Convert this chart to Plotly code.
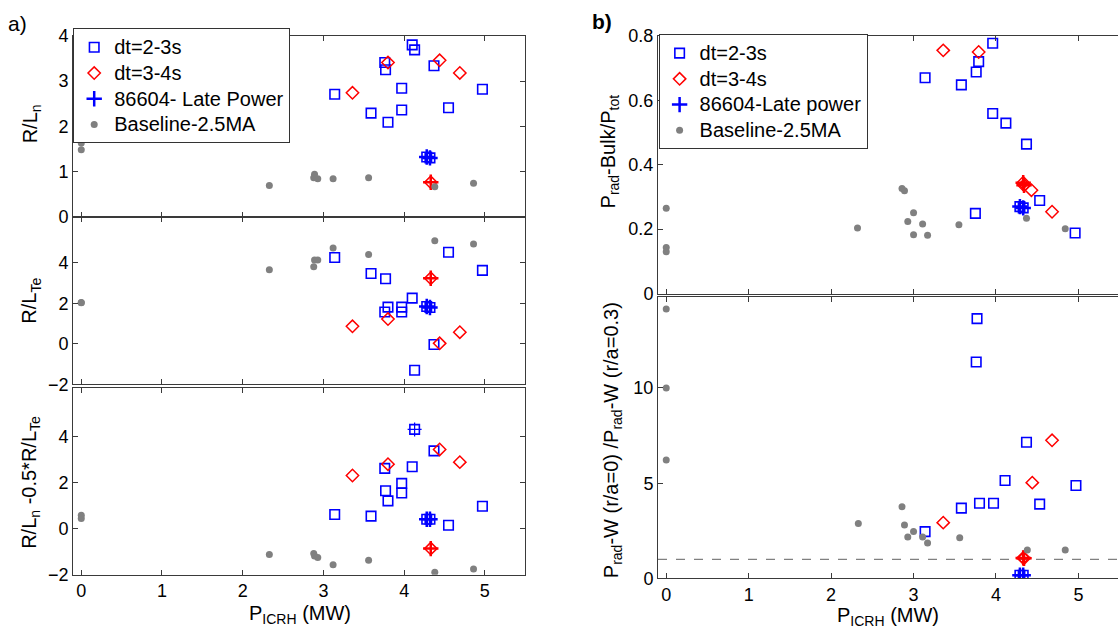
import plotly.graph_objects as go

W, H = 1118, 643

# ---------------- left column: gradients vs ICRH power ----------------
# dt = 2-3 s window
sq_x_L = [3.14, 3.59, 3.76, 3.77, 3.80, 3.97, 3.97, 4.10, 4.13, 4.37, 4.55, 4.97]
sq_rln = [2.71, 2.29, 3.41, 3.25, 2.09, 2.84, 2.36, 3.80, 3.69, 3.34, 2.41, 2.82]
sq_rlte = [4.27, 3.48, 1.58, 3.22, 1.82, 1.82, 1.58, 2.26, -1.30, -0.03, 4.53, 3.63]
sq_diff = [0.61, 0.54, 2.61, 1.64, 1.20, 1.96, 1.54, 2.68, 4.30, 3.37, 0.14, 0.97]

# dt = 3-4 s window
dm_x_L = [3.36, 3.80, 4.44, 4.69]
dm_rln = [2.74, 3.41, 3.46, 3.18]
dm_rlte = [0.87, 1.23, 0.03, 0.58]
dm_diff = [2.30, 2.79, 3.43, 2.88]

# pulse 86604, late power step
lp_x_L = [4.28, 4.32]
lp_rln = [1.32, 1.30]
lp_rlte = [1.85, 1.80]
lp_diff = [0.40, 0.40]
lp_red_x_L = [4.33]
lp_red_rln = [0.76]
lp_red_rlte = [3.24]
lp_red_diff = [-0.87]
lp_extra_x = [4.13]
lp_extra_diff = [4.30]

# baseline 2.5 MA
bl_x_L = [0.0, 0.0, 2.33, 2.88, 2.89, 2.93, 3.12, 3.56, 4.38, 4.86]
bl_rln = [1.63, 1.48, 0.69, 0.86, 0.94, 0.84, 0.84, 0.86, 0.66, 0.74]
bl_rlte = [2.05, 2.03, 3.66, 3.81, 4.14, 4.14, 4.74, 4.42, 5.10, 4.93]
bl_diff = [0.58, 0.44, -1.13, -1.08, -1.19, -1.26, -1.57, -1.38, -1.90, -1.75]

# ---------------- right column: radiation ----------------
sq_x_R1 = [3.14, 3.58, 3.76, 3.79, 3.75, 3.96, 3.96, 4.12, 4.37, 4.53, 4.96]
sq_bulk = [0.670, 0.648, 0.688, 0.720, 0.249, 0.777, 0.559, 0.529, 0.464, 0.289, 0.188]
sq_x_R2 = [3.14, 3.58, 3.77, 3.76, 3.80, 3.97, 4.11, 4.37, 4.53, 4.97]
sq_peak = [2.46, 3.69, 13.64, 11.36, 3.95, 3.95, 5.14, 7.15, 3.90, 4.88]

dm_x_R1 = [3.36, 3.79, 4.43, 4.68]
dm_bulk = [0.755, 0.750, 0.321, 0.254]
dm_x_R2 = [3.36, 4.44, 4.68]
dm_peak = [2.93, 5.03, 7.25]

lp_x_R = [4.29, 4.33]
lp_bulk = [0.270, 0.266]
lp_peak = [0.17, 0.17]
lp_red_x_R = [4.33, 4.34]
lp_red_bulk = [0.344, 0.336]
lp_red_peak = [1.08, 1.06]

bl_x_R1 = [0.0, 0.0, 0.0, 2.32, 2.86, 2.89, 2.93, 3.00, 3.00, 3.11, 3.17, 3.55, 4.37, 4.84]
bl_bulk = [0.265, 0.143, 0.130, 0.204, 0.326, 0.319, 0.224, 0.251, 0.183, 0.216, 0.181, 0.214, 0.234, 0.201]
bl_x_R2 = [0.0, 0.0, 0.0, 2.33, 2.86, 2.89, 2.93, 3.00, 3.11, 3.17, 3.56, 4.38, 4.84]
bl_peak = [14.15, 10.0, 6.22, 2.88, 3.76, 2.80, 2.17, 2.46, 2.17, 1.86, 2.14, 1.49, 1.49]

peaking_ref = 1.0

BLUE = "rgb(0,0,255)"
RED = "rgb(255,0,0)"
GREY = "rgb(128,128,128)"
AX = "#3a3a3a"
FONT = "Liberation Sans, Arial, sans-serif"


def px_x(p):
    return p / W


def px_y(p):
    return 1 - p / H


def big(text):
    # legend labels are drawn at 20 px on a tighter row pitch
    return '<span style="font-size:20px">' + text + "</span>"


fig = go.Figure()


def add_panel(ax, sq, dm, lp, lp_red, bl, legend, show, extra=None):
    xa, ya = ax
    common = dict(xaxis=xa, yaxis=ya, mode="markers", legend=legend)
    fig.add_trace(go.Scatter(x=sq[0], y=sq[1], name=big("dt=2-3s"), showlegend=show,
                             marker=dict(symbol="square-open", size=9.5, color=BLUE,
                                         line=dict(width=1.6, color=BLUE)), **common))
    fig.add_trace(go.Scatter(x=dm[0], y=dm[1], name=big("dt=3-4s"), showlegend=show,
                             marker=dict(symbol="diamond-open", size=9.5, color=RED,
                                         line=dict(width=1.5, color=RED)), **common))
    # 86604 outlines for the two time windows
    fig.add_trace(go.Scatter(x=lp[0], y=lp[1], showlegend=False, hoverinfo="skip",
                             marker=dict(symbol="square-open", size=9.5, color=BLUE,
                                         line=dict(width=1.6, color=BLUE)), **common))
    fig.add_trace(go.Scatter(x=lp_red[0], y=lp_red[1], showlegend=False, hoverinfo="skip",
                             marker=dict(symbol="diamond-open", size=9.5, color=RED,
                                         line=dict(width=1.5, color=RED)), **common))
    label = "86604- Late Power" if legend == "legend" else "86604-Late power"
    fig.add_trace(go.Scatter(x=lp[0], y=lp[1], name=big(label), showlegend=show,
                             marker=dict(symbol="cross-thin-open", size=11, color=BLUE,
                                         line=dict(width=2.5, color=BLUE)), **common))
    fig.add_trace(go.Scatter(x=lp_red[0], y=lp_red[1], showlegend=False,
                             marker=dict(symbol="cross-thin-open", size=11, color=RED,
                                         line=dict(width=2.5, color=RED)), **common))
    if extra is not None:
        fig.add_trace(go.Scatter(x=extra[0], y=extra[1], showlegend=False,
                                 marker=dict(symbol="cross-thin-open", size=10, color=BLUE,
                                             line=dict(width=1.2, color=BLUE)), **common))
    fig.add_trace(go.Scatter(x=bl[0], y=bl[1], name=big("Baseline-2.5MA"), showlegend=show,
                             marker=dict(symbol="circle", size=7, color=GREY,
                                         line=dict(width=0)), **common))


add_panel(("x", "y"), (sq_x_L, sq_rln), (dm_x_L, dm_rln), (lp_x_L, lp_rln),
          (lp_red_x_L, lp_red_rln), (bl_x_L, bl_rln), "legend", True)
add_panel(("x2", "y2"), (sq_x_L, sq_rlte), (dm_x_L, dm_rlte), (lp_x_L, lp_rlte),
          (lp_red_x_L, lp_red_rlte), (bl_x_L, bl_rlte), "legend", False)
add_panel(("x3", "y3"), (sq_x_L, sq_diff), (dm_x_L, dm_diff), (lp_x_L, lp_diff),
          (lp_red_x_L, lp_red_diff), (bl_x_L, bl_diff), "legend", False,
          extra=(lp_extra_x, lp_extra_diff))
add_panel(("x4", "y4"), (sq_x_R1, sq_bulk), (dm_x_R1, dm_bulk), (lp_x_R, lp_bulk),
          (lp_red_x_R, lp_red_bulk), (bl_x_R1, bl_bulk), "legend2", True)
add_panel(("x5", "y5"), (sq_x_R2, sq_peak), (dm_x_R2, dm_peak), (lp_x_R, lp_peak),
          (lp_red_x_R, lp_red_peak), (bl_x_R2, bl_peak), "legend2", False)

# reference level for the peaking ratio
fig.add_shape(type="line", xref="x5 domain", yref="y5", x0=0, x1=1,
              y0=peaking_ref, y1=peaking_ref, layer="below",
              line=dict(color="#808080", width=1.3, dash="dash"))

base = dict(showline=True, linecolor=AX, linewidth=1, ticks="inside", ticklen=5,
            tickcolor=AX, tickwidth=1, showgrid=False, zeroline=False,
            tickfont=dict(size=18, color="black", family=FONT))

xL = [px_x(73.2), px_x(525.2)]
xR = [px_x(658.0), 1.0]
xticks = [0, 1, 2, 3, 4, 5]

layout_axes = dict(
    xaxis=dict(base, domain=xL, range=[-0.1, 5.5], tickvals=xticks, showticklabels=False,
               mirror="ticks", anchor="y"),
    yaxis=dict(base, domain=[px_y(213.3), px_y(26.7)], range=[0, 4],
               tickvals=[0, 1, 2, 3, 4], mirror="ticks", anchor="x"),
    xaxis2=dict(base, domain=xL, range=[-0.1, 5.5], tickvals=xticks, showticklabels=False,
                mirror="ticks", anchor="y2"),
    yaxis2=dict(base, domain=[px_y(386.5), px_y(214.0)], range=[-2, 6.25],
                tickvals=[-2, 0, 2, 4], mirror="ticks", anchor="x2"),
    xaxis3=dict(base, domain=xL, range=[-0.1, 5.5], tickvals=xticks, mirror="ticks",
                anchor="y3"),
    yaxis3=dict(base, domain=[px_y(582.8), px_y(390.0)], range=[-2, 6.1],
                tickvals=[-2, 0, 2, 4], mirror="ticks", anchor="x3"),
    xaxis4=dict(base, domain=xR, range=[-0.1, 5.48], tickvals=xticks, showticklabels=False,
                mirror="ticks", anchor="y4"),
    yaxis4=dict(base, domain=[px_y(292.7), px_y(26.7)], range=[0, 0.8],
                tickvals=[0, 0.2, 0.4, 0.6, 0.8], mirror=False, anchor="x4"),
    xaxis5=dict(base, domain=xR, range=[-0.1, 5.48], tickvals=xticks, mirror="ticks",
                anchor="y5"),
    yaxis5=dict(base, domain=[px_y(586.7), px_y(296.7)], range=[0, 14.75],
                tickvals=[0, 5, 10], mirror=False, anchor="x5"),
)

legend_style = dict(bgcolor="white", bordercolor="#333", borderwidth=1,
                    font=dict(size=17.5, color="black", family=FONT),
                    xanchor="left", yanchor="top", tracegroupgap=0,
                    itemsizing="trace")


def title(text, x, y, angle=0, size=20, bold=False):
    if bold:
        text = "<b>" + text + "</b>"
    return dict(text=text, x=px_x(x), y=px_y(y), xref="paper", yref="paper",
                showarrow=False, textangle=angle, xanchor="center", yanchor="middle",
                font=dict(size=size, color="black", family=FONT))


annotations = [
    title("a)", 17, 14, size=21),
    title("b)", 602, 12, size=21, bold=True),
    title("R/L<sub>n</sub>", 31, 118, angle=-90),
    title("R/L<sub>Te</sub>", 31, 300, angle=-90),
    title("R/L<sub>n</sub> -0.5*R/L<sub>Te</sub>", 31, 488, angle=-90),
    title("P<sub>ICRH</sub> (MW)", 300, 624),
    title("P<sub>rad</sub>-Bulk/P<sub>tot</sub>", 609, 146, angle=-90),
    title("P<sub>rad</sub>-W (r/a=0) /P<sub>rad</sub>-W (r/a=0.3)", 612, 444, angle=-90),
    title("P<sub>ICRH</sub> (MW)", 888, 626),
]

fig.update_layout(
    width=W, height=H,
    margin=dict(l=0, r=0, t=0, b=0),
    paper_bgcolor="white", plot_bgcolor="white",
    font=dict(family=FONT, size=18, color="black"),
    legend=dict(legend_style, x=px_x(73.2), y=px_y(19)),
    legend2=dict(legend_style, x=px_x(658.6), y=px_y(25)),
    annotations=annotations,
    **layout_axes,
)

fig.write_html("out.html")
